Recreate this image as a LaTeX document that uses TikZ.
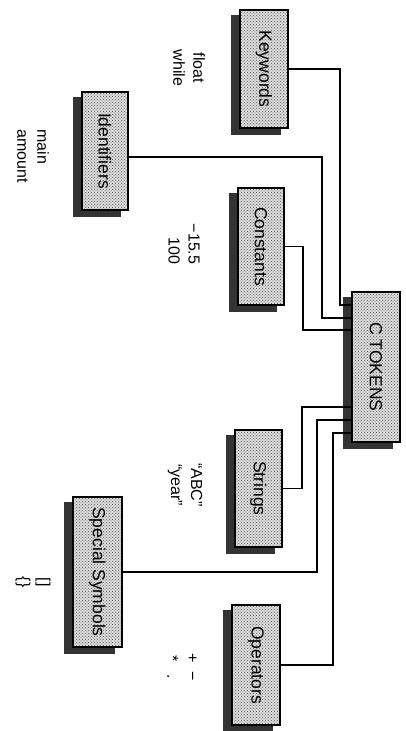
\documentclass[tikz,border=0pt]{standalone}
\usepackage{fontspec}
\setmainfont{Liberation Sans}
\usetikzlibrary{patterns,backgrounds}
\tikzset{
  tokbox/.style={draw=black, line width=1.3pt, rotate=-90, inner sep=0pt,
    preaction={fill=gray!28}, pattern=crosshatch dots, pattern color=black!65,
    font=\fontsize{17.5}{20}\selectfont},
  tokshadow/.style={fill=black!80},
  lbl/.style={rotate=-90, inner sep=0pt, font=\fontsize{16}{20}\selectfont},
  conn/.style={line width=1.1pt}
}
\begin{document}
\begin{tikzpicture}[x=1pt,y=-1pt]
\useasboundingbox (0,0) rectangle (405,731);
\node[tokbox, minimum width=118pt, minimum height=48pt] (KW) at (264,69) {Keywords};
\node[tokbox, minimum width=118pt, minimum height=46pt] (ID) at (105,151) {Identifiers};
\node[tokbox, minimum width=117pt, minimum height=46pt] (CO) at (261,246.5) {Constants};
\node[tokbox, minimum width=150pt, minimum height=48pt] (CT) at (376,367) {C TOKENS};
\node[tokbox, minimum width=117pt, minimum height=47pt] (ST) at (258.5,488.5) {Strings};
\node[tokbox, minimum width=150pt, minimum height=49pt] (SS) at (97.5,572) {Special Symbols};
\node[tokbox, minimum width=120pt, minimum height=48pt] (OP) at (256,665) {Operators};

\begin{scope}[on background layer]
\foreach \n in {KW,ID,CO,CT,ST,SS,OP}
  \fill[tokshadow] ([shift={(-8pt,-6pt)}]\n.south west) rectangle ([shift={(-8pt,-6pt)}]\n.north east);
\end{scope}

\node[lbl, align=center] (lkw) at (189,68) {float\\while};
\node[lbl, align=left] (lid) at (33,156) {main\\amount};
\node[lbl, align=right] (lco) at (184,244) {−15.5\\100};
\node[lbl, align=center] (lst) at (185,485) {“ABC”\\“year”};
\node[lbl, align=center] (lss) at (33,582) {[]\\\{\}};
\node[lbl, align=center] (lop) at (182,667) {+\ \ −\\*\ \ \ .};

\draw[conn] (KW.north) -| (340,305) -- (CT.south |- 0,305);
\draw[conn] ([yshift=-6pt]ID.north) -| (322,318) -- (CT.south |- 0,318);
\draw[conn] (CO.north) -| (303,330) -- (CT.south |- 0,330);
\draw[conn] (ST.north) -| (302,407) -- (CT.south |- 0,407);
\draw[conn] (SS.north) -| (317,420) -- (CT.south |- 0,420);
\draw[conn] (OP.north) -| (333,433) -- (CT.south |- 0,433);
\end{tikzpicture}
\end{document}
